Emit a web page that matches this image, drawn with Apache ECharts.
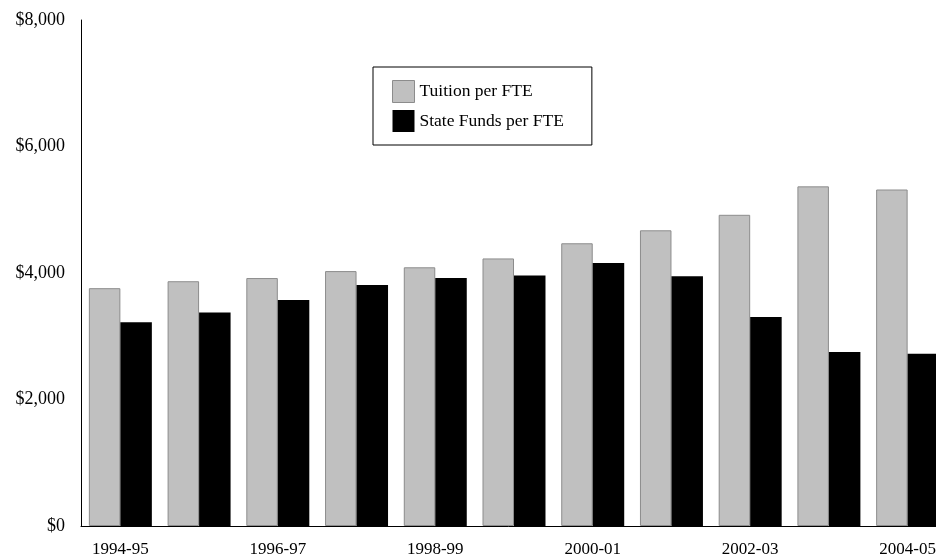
<!DOCTYPE html>
<html>
<head>
<meta charset="utf-8">
<script src="https://cdn.jsdelivr.net/npm/echarts@6/dist/echarts.min.js"></script>
<style>html,body{margin:0;padding:0;background:#fff}#c{width:936px;height:556px}</style>
</head>
<body>
<div id="c"></div>
<script>
const categories = ['1994-95','1995-96','1996-97','1997-98','1998-99','1999-00','2000-01','2001-02','2002-03','2003-04','2004-05'];
const tuition = [3760, 3870, 3920, 4030, 4090, 4230, 4470, 4675, 4920, 5370, 5320];
const stateFunds = [3220, 3375, 3575, 3810, 3920, 3960, 4160, 3950, 3305, 2750, 2725];
const yTicks = [0, 2000, 4000, 6000, 8000];

const FONT = '"Liberation Serif", "Times New Roman", serif';
const chart = echarts.init(document.getElementById('c'), null, {renderer: 'canvas'});
chart.setOption({
  animation: false,
  backgroundColor: '#fff',
  grid: {left: 81, top: 20, height: 506, width: 866, containLabel: false, outerBoundsMode: 'none'},
  legend: {
    orient: 'vertical',
    left: 373, top: 67,
    padding: [13, 28, 13, 19],
    itemWidth: 22, itemHeight: 22, itemGap: 7, itemTextGap: 7,
    icon: 'rect',
    borderColor: '#000', borderWidth: 1,
    textStyle: {fontFamily: FONT, fontSize: 17.5, color: '#000'},
    data: [
      {name: 'Tuition per FTE', icon: 'rect', itemStyle: {color: '#c0c0c0', borderColor: '#8c8c8c', borderWidth: 1}},
      {name: 'State Funds per FTE', icon: 'rect', itemStyle: {color: '#000', borderWidth: 0}}
    ]
  },
  xAxis: {
    type: 'category',
    data: categories,
    axisLine: {show: true, lineStyle: {color: '#000', width: 1}},
    axisTick: {show: false},
    axisLabel: {interval: 1, margin: 15, color: '#000', fontFamily: FONT, fontSize: 17}
  },
  yAxis: {
    type: 'value',
    min: yTicks[0], max: yTicks[yTicks.length - 1], interval: 2000,
    axisLine: {show: true, lineStyle: {color: '#000', width: 1}},
    axisTick: {show: false},
    splitLine: {show: false},
    axisLabel: {
      margin: 16, color: '#000', fontFamily: FONT, fontSize: 18,
      formatter: v => '$' + v.toLocaleString('en-US')
    }
  },
  series: [
    {
      name: 'Tuition per FTE', type: 'bar', data: tuition,
      barWidth: '40%', barGap: '0%', barCategoryGap: '20%',
      itemStyle: {color: '#c0c0c0', borderColor: '#8c8c8c', borderWidth: 1}
    },
    {
      name: 'State Funds per FTE', type: 'bar', data: stateFunds,
      barWidth: '40%', barGap: '0%', barCategoryGap: '20%',
      itemStyle: {color: '#000'}
    }
  ]
});
</script>
</body>
</html>
